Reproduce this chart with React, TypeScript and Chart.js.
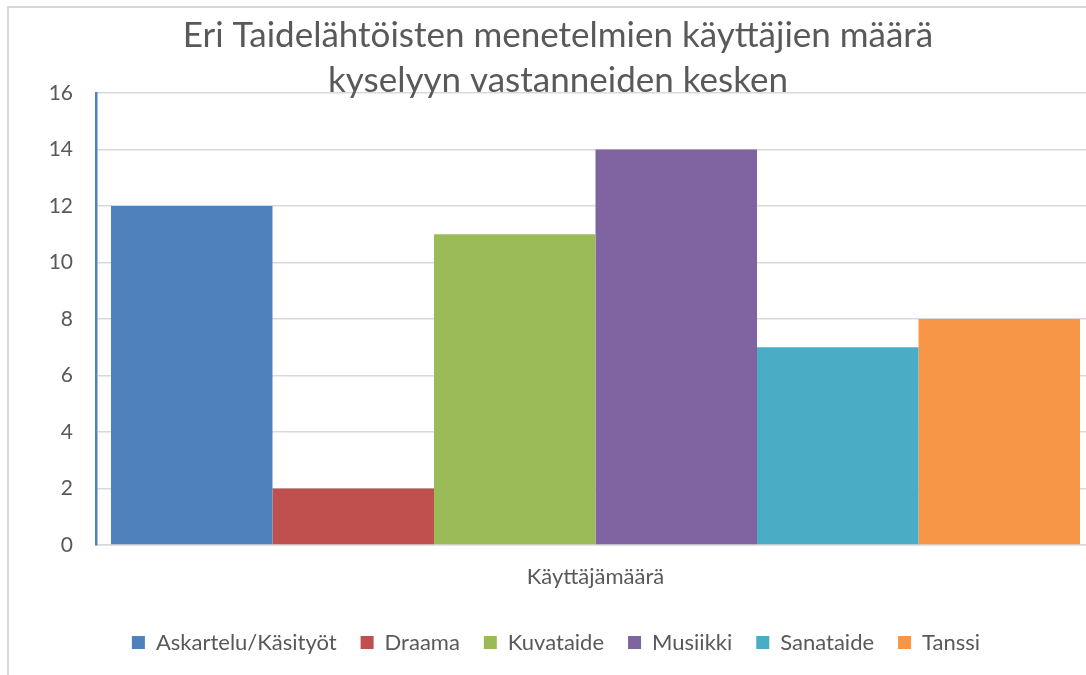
import React, { useEffect, useRef } from "react";
import { Chart, registerables } from "chart.js";

Chart.register(...registerables);

const categories = ["Käyttäjämäärä"];
const seriesNames = ["Askartelu/Käsityöt", "Draama", "Kuvataide", "Musiikki", "Sanataide", "Tanssi"];
const seriesValues = [12, 2, 11, 14, 7, 8];
const seriesColors = ["#4f81bd", "#c0504d", "#9bbb59", "#8064a2", "#4bacc6", "#f79646"];
const titleLines = ["Eri Taidelähtöisten menetelmien käyttäjien määrä", "kyselyyn vastanneiden kesken"];
const yMin = 0;
const yMax = 16;
const yStep = 2;

const FONT = "Lato, 'Open Sans', sans-serif";
const TEXT = "#595959";

export default function App() {
  const ref = useRef<HTMLCanvasElement | null>(null);

  useEffect(() => {
    if (!ref.current) return;
    const titlePlugin = {
      id: "customTitle",
      afterDraw(chart: any) {
        const ctx = chart.ctx;
        ctx.save();
        ctx.fillStyle = TEXT;
        ctx.font = `35px ${FONT}`;
        ctx.textAlign = "center";
        ctx.textBaseline = "alphabetic";
        const cx = chart.width / 2;
        ctx.fillText(titleLines[0], cx, 47);
        ctx.fillText(titleLines[1], cx, 92);
        ctx.restore();
      },
    };
    const chart = new Chart(ref.current, {
      type: "bar",
      data: {
        labels: categories,
        datasets: seriesNames.map((name, i) => ({
          label: name,
          data: [seriesValues[i]],
          backgroundColor: seriesColors[i],
          borderWidth: 0,
          categoryPercentage: 0.97,
          barPercentage: 1.0,
        })),
      },
      options: {
        responsive: false,
        animation: false,
        layout: { padding: { left: 17, right: 21, top: 93, bottom: 11.5 } },
        plugins: {
          title: { display: false },
          tooltip: { enabled: false },
          legend: {
            position: "bottom",
            labels: {
              boxWidth: 13,
              boxHeight: 13,
              padding: 24,
              color: TEXT,
              font: { family: FONT, size: 22 },
            },
          },
        },
        scales: {
          x: {
            grid: { display: false, drawTicks: false },
            border: { display: true, color: "#d9d9d9", width: 1.5 },
            ticks: { color: TEXT, font: { family: FONT, size: 22 }, padding: 19 },
            afterFit(scale: any) {
              scale.height = 62.5;
            },
          },
          y: {
            min: yMin,
            max: yMax,
            grid: { color: "#d9d9d9", lineWidth: 1.5, drawTicks: false },
            border: { display: true, color: "#4f81bd", width: 2.5 },
            ticks: { stepSize: yStep, color: TEXT, font: { family: FONT, size: 21 }, padding: 23 },
            afterFit(scale: any) {
              scale.width = 79;
            },
          },
        },
      },
      plugins: [titlePlugin],
    });
    return () => chart.destroy();
  }, []);

  return (
    <div
      style={{
        position: "fixed",
        left: 0,
        top: 0,
        width: 1086,
        height: 675,
        overflow: "hidden",
        background: "#ffffff",
      }}
    >
      <div
        style={{
          position: "absolute",
          left: 7,
          top: 6,
          width: 1102,
          height: 700,
          border: "2px solid #d9d9d9",
          boxSizing: "border-box",
        }}
      />
      <canvas
        ref={ref}
        width={1116}
        height={675}
        style={{ position: "absolute", left: 0, top: 0, width: 1116, height: 675 }}
      />
    </div>
  );
}
